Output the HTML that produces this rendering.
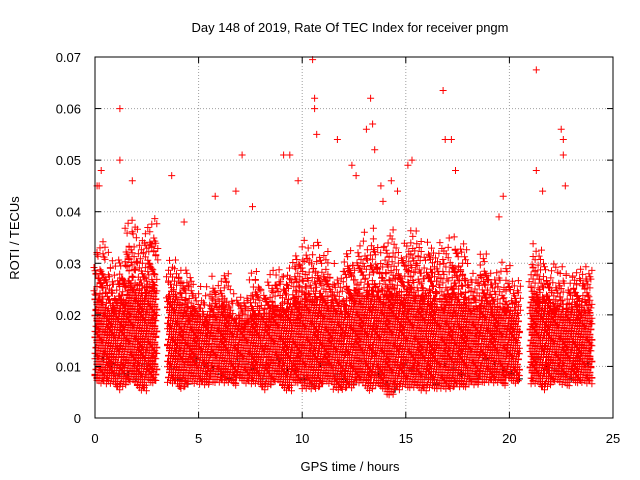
<!DOCTYPE html>
<html><head><meta charset="utf-8"><style>
html,body{margin:0;padding:0;background:#fff;}
svg{display:block;font-family:"Liberation Sans",sans-serif;}
</style></head><body>
<svg id="chart" width="640" height="480">
<text x="350" y="32" font-size="13" text-anchor="middle">Day 148 of 2019, Rate Of TEC Index for receiver pngm</text>
<text x="350" y="471" font-size="13" text-anchor="middle">GPS time / hours</text>
<text transform="translate(19,238) rotate(-90)" font-size="13" text-anchor="middle">ROTI / TECUs</text>
<g id="grid"></g>
<g id="marks"></g>
<rect x="95" y="57" width="518" height="361" fill="none" stroke="#000"/>
<g id="axes"></g>
</svg>
<script>
const xTicks=[0,5,10,15,20,25];
const yTicks=[0,0.01,0.02,0.03,0.04,0.05,0.06,0.07];
const yTickLabels=["0","0.01","0.02","0.03","0.04","0.05","0.06","0.07"];
const binTimes=[0,0.5,1,1.5,2,2.5,3,3.5,4,4.5,5,5.5,6,6.5,7,7.5,8,8.5,9,9.5,10,10.5,11,11.5,12,12.5,13,13.5,14,14.5,15,15.5,16,16.5,17,17.5,18,18.5,19,19.5,20,20.5,21,21.5,22,22.5,23,23.5];
const binLow=[0.007,0.007,0.006,0.007,0.006,0.007,null,0.007,0.006,0.007,0.007,0.007,0.007,0.007,0.007,0.007,0.006,0.007,0.006,0.007,0.006,0.006,0.007,0.006,0.006,0.007,0.006,0.006,0.005,0.006,0.006,0.006,0.006,0.006,0.006,0.006,0.007,0.007,0.007,0.007,0.007,null,0.007,0.006,0.007,0.007,0.007,0.007];
const binCore=[0.024,0.022,0.023,0.026,0.025,0.026,null,0.024,0.023,0.021,0.02,0.021,0.022,0.02,0.019,0.021,0.021,0.022,0.022,0.023,0.024,0.024,0.023,0.022,0.023,0.024,0.025,0.024,0.025,0.024,0.025,0.024,0.024,0.023,0.025,0.024,0.022,0.023,0.022,0.022,0.021,null,0.024,0.023,0.022,0.022,0.022,0.022];
const binHigh=[0.036,0.033,0.034,0.04,0.041,0.04,null,0.034,0.032,0.028,0.027,0.028,0.03,0.026,0.026,0.03,0.028,0.03,0.031,0.034,0.036,0.036,0.033,0.031,0.034,0.036,0.038,0.036,0.039,0.036,0.039,0.037,0.036,0.035,0.037,0.035,0.031,0.033,0.031,0.031,0.029,null,0.036,0.033,0.031,0.031,0.031,0.031];
const outT=[0.1,0.2,0.3,1.2,1.2,1.8,3.7,4.3,5.8,6.8,7.1,7.6,9.1,9.4,9.8,10.5,10.6,10.6,10.7,11.7,12.4,12.6,13.1,13.3,13.4,13.5,13.8,13.9,14.3,14.6,15.1,15.3,16.8,16.9,17.2,17.4,19.5,19.7,21.3,21.3,21.6,22.5,22.6,22.6,22.7];
const outV=[0.045,0.045,0.048,0.060,0.050,0.046,0.047,0.038,0.043,0.044,0.051,0.041,0.051,0.051,0.046,0.0695,0.062,0.060,0.055,0.054,0.049,0.047,0.056,0.062,0.057,0.052,0.045,0.042,0.046,0.044,0.049,0.050,0.0635,0.054,0.054,0.048,0.039,0.043,0.0675,0.048,0.044,0.056,0.054,0.051,0.045];

const X=t=>95+t*518/25;
const Y=v=>418-v*361/0.07;
const NS="http://www.w3.org/2000/svg";
const grid=document.getElementById('grid'),axes=document.getElementById('axes'),marks=document.getElementById('marks');
function mk(tag,attrs,parent){const e=document.createElementNS(NS,tag);for(const k in attrs)e.setAttribute(k,attrs[k]);parent.appendChild(e);return e;}
xTicks.forEach((t,i)=>{
  if(i>0&&i<xTicks.length-1){const g=mk('line',{x1:X(t),x2:X(t),y1:57,y2:418,stroke:'#a0a0a0','stroke-dasharray':'1,2'},grid);
  
  }
  const l=mk('text',{x:X(t),y:443,'font-size':13,'text-anchor':'middle'},axes);l.textContent=t;
  
  
  mk('line',{x1:X(t),x2:X(t),y1:418,y2:412,stroke:'#000'},axes);
  mk('line',{x1:X(t),x2:X(t),y1:57,y2:63,stroke:'#000'},axes);
});
yTicks.forEach((v,i)=>{
  if(i>0&&i<yTicks.length-1){const g=mk('line',{x1:95,x2:613,y1:Y(v),y2:Y(v),stroke:'#a0a0a0','stroke-dasharray':'1,2'},grid);
  
  }
  const l=mk('text',{x:81,y:Y(v)+5,'font-size':13,'text-anchor':'end'},axes);l.textContent=yTickLabels[i];
  
  
  mk('line',{x1:95,x2:101,y1:Y(v),y2:Y(v),stroke:'#000'},axes);
  mk('line',{x1:613,x2:607,y1:Y(v),y2:Y(v),stroke:'#000'},axes);
});
function plus(x,y){return `M${(x-3.5).toFixed(1)} ${y.toFixed(1)}h7M${x.toFixed(1)} ${(y-3.5).toFixed(1)}v7`;}
const bw=518/25*0.5;
let K=0;
binTimes.forEach((t,i)=>{
  if(binLow[i]==null)return;
  const x0=X(t), yl=Y(binLow[i]), yc=Y(binCore[i]), yh=Y(binHigh[i]);
  let dr='',db='';
  for(let x=x0+1;x<x0+bw;x+=2){
    K++;
    const f1=((K*37)%11)/11, f2=((K*53)%13)/13;
    const lo=yl+4*f2-2;
    const core=yc+(yl-yc)*0.15*(f1-0.3);
    for(let y=lo;y>core;y-=2.6){const o=((K*7+Math.round(y))%5)-2;dr+=plus(x+((Math.round(y))%3)-1,y+o);}
    const top=core-(core-yh)*(0.4+0.6*f1);
    for(let y=core;y>top;y-=6+4*f2){const o=((K*5+Math.round(y))%9)-4;dr+=plus(x+((K+Math.round(y))%5)-2,y+o);}
    if(K%4==0)db+=plus(x+1,yl-3-(K%5)*5);
  }
  const pb=mk('path',{d:db,stroke:'#000','stroke-width':1,fill:'none'},marks);
  
  
  const p=mk('path',{d:dr,stroke:'#ff0000','stroke-width':1,fill:'none'},marks);
  
  
});
outT.forEach((t,i)=>{
  const p=mk('path',{d:plus(X(t),Y(outV[i])),stroke:'#ff0000','stroke-width':1,fill:'none'},marks);
  
  
});
</script>
</body></html>
